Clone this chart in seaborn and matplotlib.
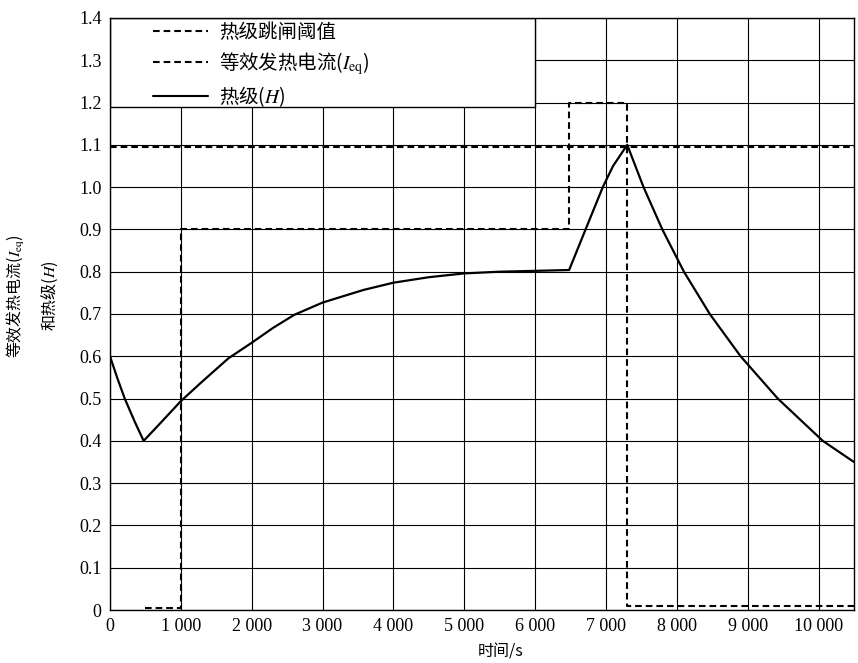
import numpy as np
import pandas as pd
import matplotlib
matplotlib.use("Agg")
import matplotlib.pyplot as plt
import seaborn as sns
from matplotlib.patches import Rectangle
from matplotlib.lines import Line2D

# ---------------- data ----------------
h_time = [0, 100, 208, 350, 475, 700, 1000, 1300, 1670, 2000, 2300, 2600,
          3000, 3580, 4000, 4500, 5000, 5500, 6000, 6480, 6700, 6955, 7100,
          7300, 7530, 7795, 8100, 8465, 8900, 9425, 10060, 10500]
h_vals = [0.600, 0.550, 0.500, 0.445, 0.400, 0.440, 0.494, 0.540, 0.595,
          0.632, 0.667, 0.698, 0.727, 0.757, 0.774, 0.787, 0.796, 0.800,
          0.802, 0.804, 0.895, 1.000, 1.050, 1.100, 1.000, 0.900, 0.800,
          0.700, 0.600, 0.500, 0.400, 0.350]

ieq_time = [500, 1000, 6480, 7300, 10500]
ieq_vals = [0.005, 0.900, 1.200, 0.010, 0.010]

thr_time = [0, 10500]
thr_vals = [1.095, 1.095]

x_ticks = [0, 1000, 2000, 3000, 4000, 5000, 6000, 7000, 8000, 9000, 10000]
x_ticklabels = ["0", "1 000", "2 000", "3 000", "4 000", "5 000", "6 000",
                "7 000", "8 000", "9 000", "10 000"]
y_ticks = [0, 0.1, 0.2, 0.3, 0.4, 0.5, 0.6, 0.7, 0.8, 0.9, 1.0, 1.1, 1.2, 1.3, 1.4]
y_ticklabels = ["0", "0.1", "0.2", "0.3", "0.4", "0.5", "0.6", "0.7", "0.8",
                "0.9", "1.0", "1.1", "1.2", "1.3", "1.4"]

legend_labels = ["热级跳闸阈值", "等效发热电流($I_{\\mathrm{eq}}$)", "热级($H$)"]
x_label = "时间/s"
y_label = "等效发热电流($I_{\\mathrm{eq}}$)\n和热级($H$)"

# ---------------- style ----------------
sns.set_theme(style="white")
plt.rcParams["font.family"] = ["Noto Sans CJK SC", "DejaVu Sans"]
plt.rcParams["mathtext.fontset"] = "stix"

fig = plt.figure(figsize=(8.58, 6.63), dpi=100)
ax = fig.add_axes([0.1282, 0.0799, 0.8671, 0.8930])

dash = (0, (3.2, 1.9))
lw = 1.5

df_h = pd.DataFrame({"t": h_time, "v": h_vals})
df_i = pd.DataFrame({"t": ieq_time, "v": ieq_vals})
df_t = pd.DataFrame({"t": thr_time, "v": thr_vals})

sns.lineplot(data=df_t, x="t", y="v", ax=ax, color="black", lw=lw,
             linestyle=dash, sort=False, estimator=None, zorder=3)
sns.lineplot(data=df_i, x="t", y="v", ax=ax, color="black", lw=lw,
             linestyle=dash, drawstyle="steps-post", sort=False,
             estimator=None, zorder=3)
sns.lineplot(data=df_h, x="t", y="v", ax=ax, color="black", lw=1.6,
             sort=False, estimator=None, zorder=4)

ax.set_xlim(0, 10500)
ax.set_ylim(0, 1.4)
ax.set_xticks(x_ticks)
ax.set_xticklabels(x_ticklabels, family="Liberation Serif", fontsize=13)
ax.set_yticks(y_ticks)
ax.set_yticklabels(y_ticklabels, family="Liberation Serif", fontsize=13)
ax.tick_params(axis="both", direction="out", length=3, width=0.8,
               color="black", pad=3, labelcolor="black")
ax.set_xlabel("")
ax.set_ylabel("")

ax.set_axisbelow(True)
ax.grid(True, color="black", lw=0.8)
for s in ax.spines.values():
    s.set_color("black")
    s.set_linewidth(1.0)

# legend box (opaque, covers grid in top-left corner)
ax.add_patch(Rectangle((0, 1.19), 6000, 0.21, facecolor="white",
                       edgecolor="black", lw=1.0, zorder=2.5))

handles = [
    Line2D([], [], color="black", lw=lw, linestyle=dash),
    Line2D([], [], color="black", lw=lw, linestyle=dash),
    Line2D([], [], color="black", lw=lw),
]
leg = ax.legend(handles, legend_labels, loc="upper left",
                bbox_to_anchor=(0.040, 1.017), frameon=False,
                fontsize=14, handlelength=2.8, handletextpad=0.6,
                labelspacing=0.37, borderpad=0.2)
leg.set_zorder(6)
for t in leg.get_texts():
    t.set_color("black")

fig.text(0.583, 1 - 652 / 663, x_label, ha="center", va="center",
         fontsize=11.5, color="black")
fig.text(0.038, 1 - 296 / 663, y_label, rotation=90, ha="center",
         va="center", multialignment="center", fontsize=11.5,
         linespacing=1.7, color="black")

fig.savefig("out.png", dpi=100)
